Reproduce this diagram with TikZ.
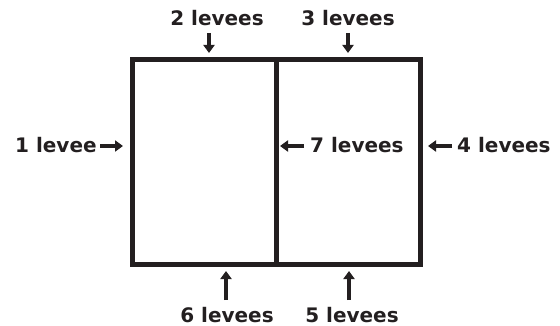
\documentclass[tikz,border=0pt]{standalone}
\usepackage{fontspec}
\setmainfont{DejaVu Sans}
\usetikzlibrary{arrows.meta}
\definecolor{ink}{HTML}{231F20}
\begin{document}
\begin{tikzpicture}[x=1pt,y=-1pt,
  lbl/.style={font=\fontsize{20}{24}\selectfont\bfseries, text=ink, inner sep=0pt},
  box/.style={draw=ink, line width=5pt},
  arr/.style={draw=ink, line width=3.2pt, -{Triangle[length=8pt,width=11pt]}}]
\useasboundingbox (0,0) rectangle (560,326);
% box
\coordinate (tl) at (132.5,59.5);
\coordinate (br) at (420.5,264.5);
\coordinate (mt) at (276,59.5);
\coordinate (mb) at (276,264.5);
\draw[box] (tl) rectangle (br);
\draw[box] (mt) -- (mb);
% labels
\node[lbl, anchor=base] (l2) at (217,26) {2 levees};
\node[lbl, anchor=base] (l3) at (348,26) {3 levees};
\node[lbl, anchor=base west] (l1) at (15,153) {1 levee};
\node[lbl, anchor=base west] (l7) at (310,153) {7 levees};
\node[lbl, anchor=base west] (l4) at (457,153) {4 levees};
\node[lbl, anchor=base] (l6) at (227,322) {6 levees};
\node[lbl, anchor=base] (l5) at (352,322) {5 levees};
% arrow ends
\coordinate (a2s) at (209,33);  \coordinate (a2e) at (209,53);
\coordinate (a3s) at (348,33);  \coordinate (a3e) at (348,53);
\coordinate (a1s) at (100,146); \coordinate (a1e) at (123,146);
\coordinate (a7s) at (304,146); \coordinate (a7e) at (280,146);
\coordinate (a4s) at (452,146); \coordinate (a4e) at (428,146);
\coordinate (a6s) at (226,300); \coordinate (a6e) at (226,271);
\coordinate (a5s) at (349,300); \coordinate (a5e) at (349,271);
\draw[arr] (a2s) -- (a2e);
\draw[arr] (a3s) -- (a3e);
\draw[arr] (a1s) -- (a1e);
\draw[arr] (a7s) -- (a7e);
\draw[arr] (a4s) -- (a4e);
\draw[arr] (a6s) -- (a6e);
\draw[arr] (a5s) -- (a5e);
\end{tikzpicture}
\end{document}
